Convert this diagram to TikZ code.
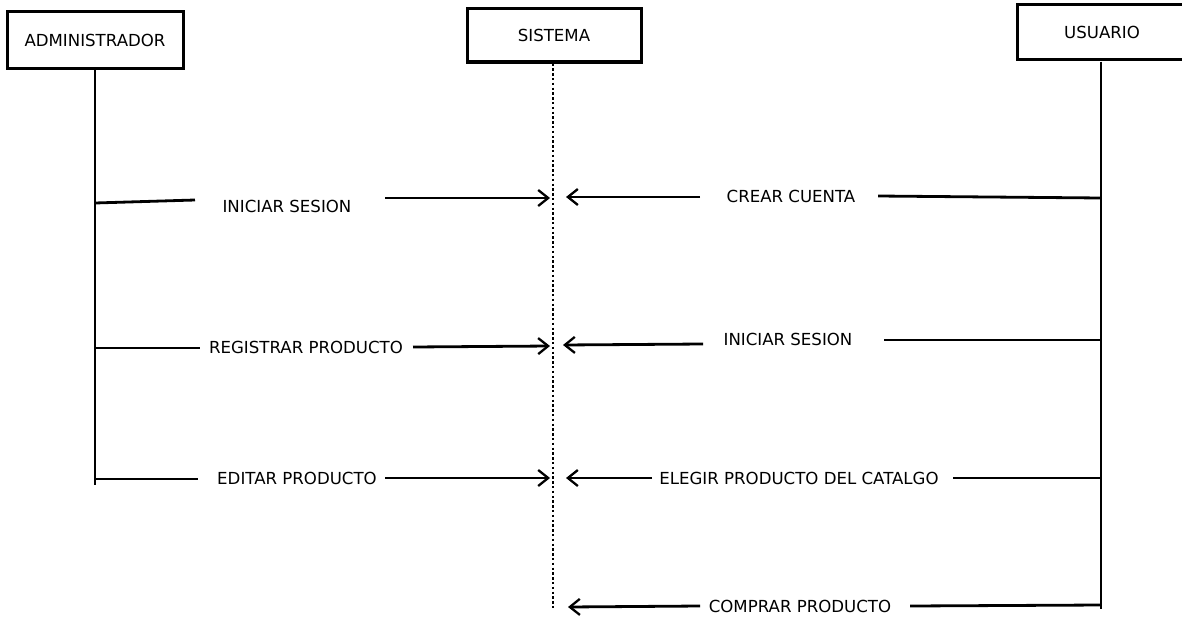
\documentclass[tikz,border=0pt]{standalone}
\usepackage{fontspec}
\setmainfont{DejaVu Sans}
\usetikzlibrary{arrows.meta}
\begin{document}
\begin{tikzpicture}[x=1pt,y=-1pt,
  txt/.style={font=\fontsize{16.6}{19}\selectfont, inner sep=0pt, text=black},
  actor/.style={draw, line width=3pt, txt, anchor=center},
  life/.style={line width=2.8pt},
  sislife/.style={line width=2.6pt, dash pattern=on 2.4pt off 2.4pt},
  msg/.style={line width=2.8pt},
  arr/.style={msg, -{Straight Barb[length=10pt,width=16pt,line width=2.3pt]}},
  lbl/.style={txt, anchor=center}]
\useasboundingbox[fill=white] (0,0) rectangle (1182,618);
% actors
\node[actor, minimum width=176pt, minimum height=56pt] (admin) at (95,40) {ADMINISTRADOR};
\node[actor, minimum width=174pt, minimum height=53pt] (sis) at (554,35.5) {SISTEMA};
\node[actor, minimum width=170pt, minimum height=55pt] (usu) at (1102,32.5) {};
\node[lbl] (usut) at (1102,32) {USUARIO};
% lifelines
\coordinate (aend) at (95,485);
\coordinate (send) at (553,608);
\coordinate (uend) at (1101,609);
\draw[life] (admin.south -| aend) -- (aend);
\draw[sislife] (sis.south -| send) -- (send);
\draw[life] (usu.south -| uend) -- (uend);
% message 1 admin
\node[lbl] (m1) at (287,206) {INICIAR SESION};
\coordinate (m1a) at (95,203); \coordinate (m1b) at (195,200);
\coordinate (m1c) at (385,198); \coordinate (m1d) at (550,198);
\draw[msg] (m1a) -- (m1b);
\draw[arr] (m1c) -- (m1d);
% message 2 usuario
\node[lbl] (m2) at (791,196) {CREAR CUENTA};
\coordinate (m2a) at (1101,198); \coordinate (m2b) at (878,196);
\coordinate (m2c) at (700,197); \coordinate (m2d) at (566,197);
\draw[msg] (m2a) -- (m2b);
\draw[arr] (m2c) -- (m2d);
% message 3 admin
\node[lbl] (m3) at (306,347) {REGISTRAR PRODUCTO};
\coordinate (m3a) at (95,348); \coordinate (m3b) at (200,348);
\coordinate (m3c) at (413,347); \coordinate (m3d) at (550,346);
\draw[msg] (m3a) -- (m3b);
\draw[arr] (m3c) -- (m3d);
% message 4 usuario
\node[lbl] (m4) at (788,339) {INICIAR SESION};
\coordinate (m4a) at (1101,340); \coordinate (m4b) at (884,340);
\coordinate (m4c) at (703,344); \coordinate (m4d) at (563,345);
\draw[msg] (m4a) -- (m4b);
\draw[arr] (m4c) -- (m4d);
% message 5 admin
\node[lbl] (m5) at (297,478) {EDITAR PRODUCTO};
\coordinate (m5a) at (95,479); \coordinate (m5b) at (198,479);
\coordinate (m5c) at (385,478); \coordinate (m5d) at (550,478);
\draw[msg] (m5a) -- (m5b);
\draw[arr] (m5c) -- (m5d);
% message 6 usuario
\node[lbl] (m6) at (799,478) {ELEGIR PRODUCTO DEL CATALGO};
\coordinate (m6a) at (1101,478); \coordinate (m6b) at (953,478);
\coordinate (m6c) at (652,478); \coordinate (m6d) at (566,478);
\draw[msg] (m6a) -- (m6b);
\draw[arr] (m6c) -- (m6d);
% message 7 usuario
\node[lbl] (m7) at (800,606) {COMPRAR PRODUCTO};
\coordinate (m7a) at (1101,605); \coordinate (m7b) at (910,606);
\coordinate (m7c) at (700,606); \coordinate (m7d) at (568,607);
\draw[msg] (m7a) -- (m7b);
\draw[arr] (m7c) -- (m7d);
\end{tikzpicture}
\end{document}
